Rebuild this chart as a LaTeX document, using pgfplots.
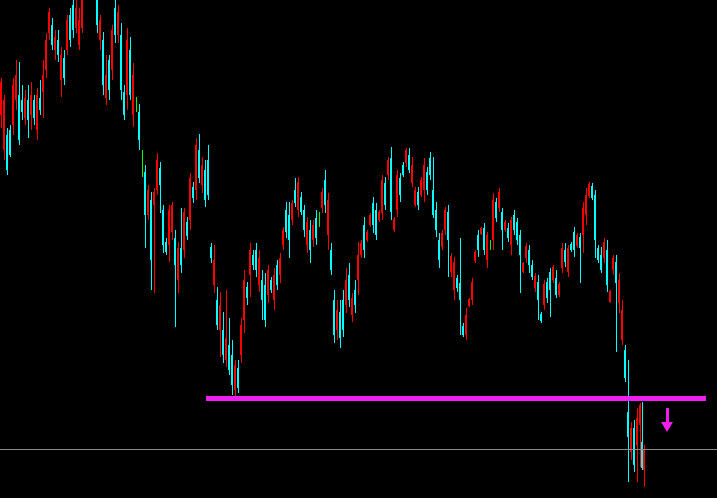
\documentclass[border=0pt]{standalone}
\usepackage{pgfplots}
\usepackage{pgfplotstable}
\pgfplotsset{compat=1.18}
\usetikzlibrary{arrows.meta}
\definecolor{mtCyan}{HTML}{00FFFF}
\definecolor{mtRed}{HTML}{FF0000}
\definecolor{mtGreen}{HTML}{00FF00}
\definecolor{mtMagenta}{HTML}{F01EF0}
\definecolor{mtGray}{HTML}{8C8C8C}

% candles in screen rows (0 = top): x open high low close
\pgfplotstableread{
x o h l c
1 82 78 128 115
4 100 95 160 150
7 170 128 175 135
10 155 125 157 130
13 85 78 135 125
16 75 60 110 100
19 140 62 145 95
22 112 85 120 100
25 98 90 125 118
28 120 85 138 100
31 95 82 130 115
34 118 95 125 100
37 95 88 140 130
40 110 80 115 98
43 75 60 118 92
46 40 33 78 70
49 12 8 40 33
52 45 18 50 25
55 37 30 60 50
58 55 30 62 40
61 55 47 97 80
64 78 50 85 58
67 20 15 55 50
70 40 8 47 15
73 30 -5 38 5
76 8 0 33 28
79 20 8 50 45
82 -5 -15 33 28
85 -10 -40 -5 -30
88 -20 -50 -15 -45
91 -40 -45 -10 -15
94 -25 -30 -2 -5
97 25 -10 33 0
100 20 15 50 40
103 85 32 95 40
106 75 55 105 98
109 90 55 100 60
112 30 25 80 70
115 35 0 43 8
118 12 5 43 35
121 90 23 100 35
124 115 85 120 92
127 40 28 110 95
130 95 37 100 50
133 75 63 127 115
136 105 97 112 105
139 140 104 150 112
142 163 150 177 163
145 215 165 248 172
148 190 185 220 215
151 260 192 290 200
154 192 188 293 205
157 160 153 195 190
160 185 162 213 168
163 245 205 253 210
166 252 238 255 242
169 210 205 262 245
172 205 202 240 232
175 265 230 327 238
178 248 242 293 280
181 265 208 273 248
184 212 208 258 250
187 236 217 240 222
190 178 173 230 220
193 198 182 203 187
196 145 138 200 190
199 178 134 183 150
202 165 157 193 185
205 200 160 207 170
208 195 145 200 160
211 258 243 263 247
214 260 245 293 285
217 325 287 330 300
220 305 292 357 330
223 355 312 363 330
226 338 290 367 360
229 370 318 375 345
232 385 340 395 355
235 365 360 397 390
238 388 360 393 368
241 325 318 363 355
244 280 270 333 320
247 298 282 305 287
250 250 243 297 275
253 265 250 270 255
256 270 243 277 250
259 258 250 292 285
262 300 270 320 280
265 320 273 327 285
268 270 265 303 295
271 290 277 293 280
274 275 268 310 300
277 285 260 290 265
280 258 253 283 275
283 230 227 250 245
286 232 202 238 210
289 240 202 258 215
292 203 200 225 220
295 203 178 207 190
298 182 177 217 210
301 212 192 215 197
304 230 205 237 210
307 222 217 253 245
310 250 220 263 230
313 225 220 247 240
316 238 210 245 218
319 220 212 227 220
322 192 188 213 208
325 205 170 213 180
328 200 193 250 235
331 270 243 275 250
334 335 290 343 300
337 310 300 340 330
340 338 300 348 312
343 330 290 337 300
346 280 268 313 305
349 300 263 307 275
352 298 293 322 315
355 305 280 313 290
358 255 242 295 280
361 243 240 258 255
364 250 217 258 225
367 232 230 242 240
370 215 213 227 225
373 225 197 233 203
376 235 203 240 210
379 212 210 222 220
382 180 175 220 213
385 205 177 210 183
388 160 157 180 175
391 212 147 220 158
394 219 217 232 230
397 175 170 217 210
400 195 173 202 178
403 175 162 177 165
406 150 148 167 163
409 170 148 173 155
412 165 157 187 183
415 190 187 207 205
418 205 187 210 192
421 180 177 197 195
424 165 158 202 190
427 190 167 195 172
430 175 152 180 158
433 215 157 218 190
436 230 202 237 210
439 260 233 268 240
442 233 230 250 247
445 210 207 235 230
448 240 205 277 212
451 256 253 277 272
454 262 257 300 290
457 288 275 292 278
460 300 238 335 283
463 335 323 337 326
466 315 308 340 335
469 299 298 307 306
472 282 278 305 300
475 252 250 263 261
478 250 230 257 235
481 228 227 235 234
484 250 223 255 228
487 235 232 268 260
490 245 240 250 245
493 200 193 250 240
496 218 198 222 202
499 192 188 212 208
502 230 208 250 212
505 222 220 232 230
508 238 223 242 228
511 220 217 255 245
514 230 210 235 215
517 240 218 245 222
520 255 230 293 235
523 263 262 273 272
526 246 243 263 258
529 265 245 273 250
532 277 260 280 265
535 276 273 292 288
538 300 275 320 282
541 321 312 323 314
544 284 280 310 305
547 298 278 303 282
550 290 268 317 272
553 267 265 283 280
556 295 270 298 278
559 284 282 297 295
562 248 243 273 268
565 262 243 267 250
568 248 245 277 272
571 250 242 252 244
574 250 227 257 232
577 235 233 248 246
580 248 233 283 237
583 208 202 253 235
586 195 188 225 215
589 184 182 198 196
592 198 183 200 186
595 240 190 258 195
598 260 245 263 248
601 270 247 273 255
604 242 238 263 258
607 285 240 292 250
610 291 290 303 302
613 258 255 275 270
616 283 255 352 262
619 280 273 313 303
622 310 300 345 340
625 378 345 382 350
628 437 360 482 412
631 428 422 460 452
634 465 420 472 428
637 418 408 482 445
640 405 403 467 425
642 468 402 470 442
644 450 445 487 470
}\candles

\pgfplotsset{
  wick/.style={draw=none, forget plot,
    error bars/.cd, y dir=plus, y explicit, error mark=none,
    error bar style={draw=#1, line width=1pt}},
  body/.style={draw=none, forget plot,
    error bars/.cd, y dir=plus, y explicit, error mark=none,
    error bar style={draw=#1, line width=2.5pt}},
}

\begin{document}
\begin{tikzpicture}
\begin{axis}[
  width=717pt, height=498pt, scale only axis,
  xmin=0, xmax=717, ymin=0, ymax=498, y dir=reverse,
  axis line style={draw=none}, ticks=none,
  axis background/.style={fill=black},
  clip bounding box=upper bound,
]
% up candles (cyan)
\addplot[restrict expr to domain={\thisrow{o}-\thisrow{c}}{0.5:1000}, wick=mtCyan]
  table[x=x, y=h, y error plus expr={\thisrow{l}-\thisrow{h}}] {\candles};
\addplot[restrict expr to domain={\thisrow{o}-\thisrow{c}}{0.5:1000}, body=mtCyan]
  table[x=x, y=c, y error plus expr={\thisrow{o}-\thisrow{c}}] {\candles};
% down candles (red)
\addplot[restrict expr to domain={\thisrow{o}-\thisrow{c}}{-1000:-0.5}, wick=mtRed]
  table[x=x, y=h, y error plus expr={\thisrow{l}-\thisrow{h}}] {\candles};
\addplot[restrict expr to domain={\thisrow{o}-\thisrow{c}}{-1000:-0.5}, body=mtRed]
  table[x=x, y=o, y error plus expr={\thisrow{c}-\thisrow{o}}] {\candles};
% doji (green)
\addplot[restrict expr to domain={\thisrow{o}-\thisrow{c}}{-0.5:0.5}, wick=mtGreen]
  table[x=x, y=h, y error plus expr={\thisrow{l}-\thisrow{h}}] {\candles};

% horizontal levels
\addplot[mtGray, line width=1pt] coordinates {(0,449) (717,449)};
\addplot[mtMagenta, line width=5pt] coordinates {(206,398.5) (706,398.5)};
% sell arrow
\addplot[mtMagenta, line width=3pt, -{Triangle[width=11pt,length=10pt]}]
  coordinates {(667,408) (667,432)};
\end{axis}
\end{tikzpicture}
\end{document}
